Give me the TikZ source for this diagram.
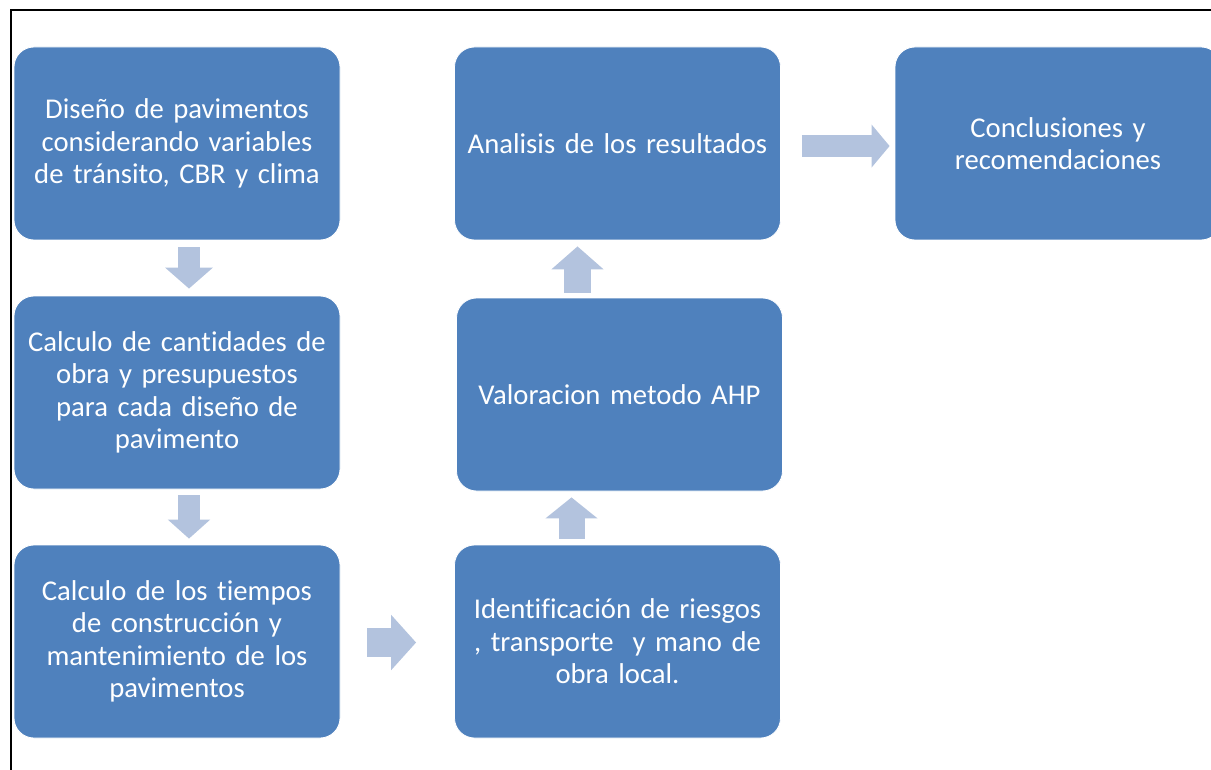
\documentclass[tikz,border=0pt]{standalone}
\usepackage{fontspec}
\setmainfont{Carlito}[Ligatures=NoCommon, WordSpace=0.7]
\usetikzlibrary{arrows.meta, positioning, calc}
\definecolor{boxblue}{RGB}{79, 129, 189}
\definecolor{arrowblue}{RGB}{179, 195, 222}

\begin{document}
\begin{tikzpicture}[x=0.75pt, y=-0.75pt,
        paso/.style={rectangle, rounded corners=15pt, fill=boxblue, draw=white, line width=0.6pt,
            minimum width=244.5pt, minimum height=144.75pt, inner sep=0pt,
            text width=240pt, align=center, text=white, font=\fontsize{21.5}{24.4}\selectfont},
        flecha/.style n args={3}{draw=arrowblue, line width=#1,
            -{Triangle[length=#3, width=#2]}}]

        % frame
        \useasboundingbox (0, 0) rectangle (1211, 770);
        \clip (0, 0) rectangle (1211, 770);
        \draw[black, line width=1.5pt] (10.5, 770) -- (10.5, 10.5) -- (1211, 10.5);

        % left column
        \node[paso] (b1) at (177, 143.5) {Diseño de pavimentos\\ considerando variables\\ de tránsito, CBR y clima};
        \node[paso] (b2) at (177, 392.5) {Calculo de cantidades de\\ obra y presupuestos\\ para cada diseño de\\ pavimento};
        \node[paso] (b3) at (177, 641.5) {Calculo de los tiempos\\ de construcción y\\ mantenimiento de los\\ pavimentos};

        % middle column
        \node[paso] (b4) at (617.5, 641.5) {Identificación de riesgos\\ , transporte\ \ y mano de\\ obra local.};
        \node[paso] (b5) at (619.5, 394.5) {Valoracion metodo AHP};
        \node[paso] (b6) at (617.5, 143.5) {Analisis de los resultados};

        % right
        \node[paso] (b7) at (1058, 143.5) {Conclusiones y\\ recomendaciones};

        % arrows
        \draw[flecha={17pt}{35pt}{15.75pt}, shorten <=5.25pt, shorten >=5.25pt]
            ([xshift=9pt]b1.south) -- ([xshift=9pt]b1.south |- b2.north);
        \draw[flecha={16.5pt}{31pt}{14.25pt}, shorten <=4.5pt, shorten >=4.5pt]
            ([xshift=9pt]b2.south) -- ([xshift=9pt]b2.south |- b3.north);
        \draw[flecha={21.75pt}{40.5pt}{18.75pt}, shorten <=20.25pt, shorten >=28.5pt]
            ([yshift=-0.75pt]b3.east) -- ([yshift=-0.75pt]b3.east -| b4.west);
        \draw[flecha={19.5pt}{38.25pt}{15.75pt}, shorten <=4.5pt, shorten >=4.5pt]
            ([xshift=-34.5pt]b4.north) -- ([xshift=-34.5pt]b4.north |- b5.south);
        \draw[flecha={20.25pt}{38.25pt}{17.25pt}, shorten <=3.75pt, shorten >=4.5pt]
            ([xshift=-31.5pt]b5.north) -- ([xshift=-31.5pt]b5.north |- b6.south);
        \draw[flecha={16.5pt}{31.5pt}{13.5pt}, shorten <=15.75pt, shorten >=3.75pt]
            ([yshift=-1.9pt]b6.east) -- ([yshift=-1.9pt]b6.east -| b7.west);
\end{tikzpicture}
\end{document}
